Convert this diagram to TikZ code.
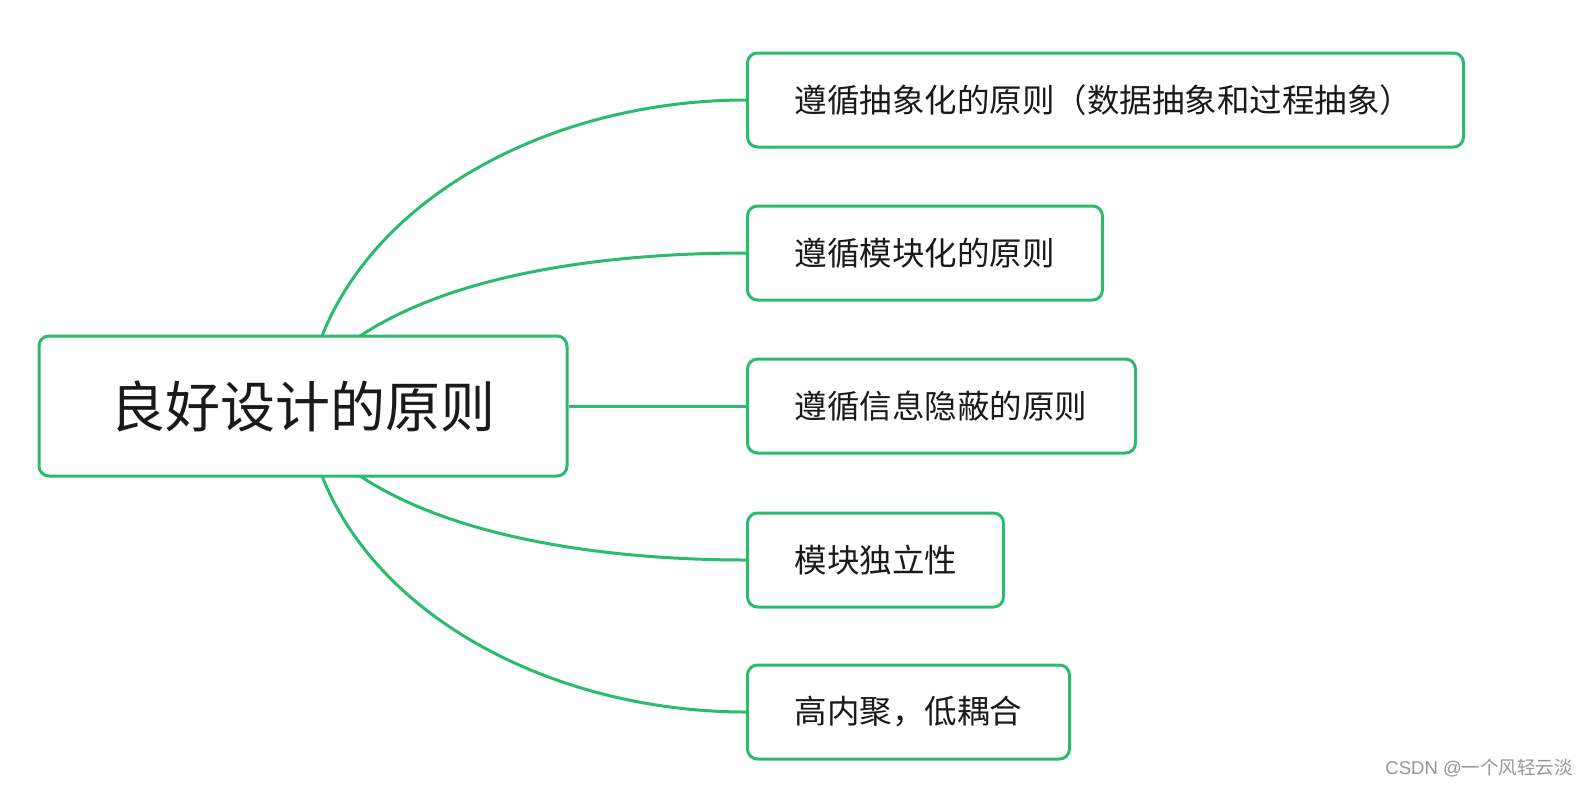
\documentclass[tikz,border=0pt]{standalone}
\usepackage{fontspec}
\newfontfamily\cjk{Noto Sans CJK SC}
\definecolor{mmgreen}{RGB}{44,186,112}
\definecolor{mmtext}{RGB}{26,26,26}
\definecolor{wmgrey}{RGB}{150,150,150}
\begin{document}
\begin{tikzpicture}[x=1pt,y=-1pt,
  box/.style={draw=mmgreen,line width=3pt,rounded corners=10pt,fill=white,
    text=mmtext,font=\cjk\fontsize{32.5}{38}\selectfont,inner xsep=47pt,inner ysep=0pt,
    minimum height=94pt,align=left,anchor=west},
  link/.style={draw=mmgreen,line width=3pt}]
\useasboundingbox (0,0) rectangle (1592,796);
\fill[white] (0,0) rectangle (1592,796);
\coordinate (s1) at (322,336);
\coordinate (s2) at (360,336);
\coordinate (s4) at (360,476);
\coordinate (s5) at (322,476);
\node[box,text width=622pt] (b1) at (746,100) {遵循抽象化的原则（数据抽象和过程抽象）};
\node[box,text width=261pt] (b2) at (746,253) {遵循模块化的原则};
\node[box,text width=294pt] (b3) at (746,406) {遵循信息隐蔽的原则};
\node[box,text width=162pt] (b4) at (746,560) {模块独立性};
\node[box,text width=228pt] (b5) at (746,712) {高内聚，低耦合};
\draw[link] (s1) .. controls (380,190) and (560,100) .. (b1.west);
\draw[link] (s2) .. controls (460,270) and (620,253) .. (b2.west);
\draw[link] (s4) .. controls (460,542) and (620,560) .. (b4.west);
\draw[link] (s5) .. controls (380,622) and (560,712) .. (b5.west);
\node[draw=mmgreen,line width=3pt,rounded corners=10pt,fill=white,text=mmtext,
  font=\cjk\fontsize{55}{64}\selectfont,minimum width=528pt,minimum height=140pt,
  inner sep=0pt] (root) at (303,406) {良好设计的原则};
\draw[link] (root.east) -- (b3.west);
\node[font=\fontspec{Liberation Sans}\fontsize{18.5}{22}\selectfont,text=wmgrey,anchor=east,inner sep=0pt] (wm) at (1573,768) {CSDN @\cjk 一个风轻云淡};
\end{tikzpicture}
\end{document}
